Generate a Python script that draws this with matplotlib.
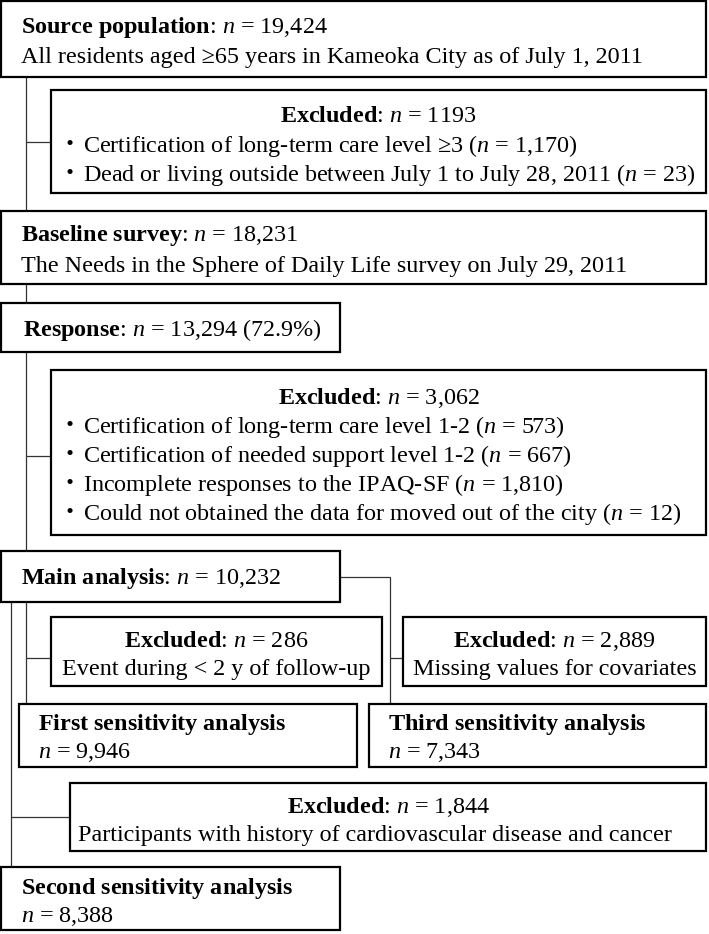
import matplotlib
matplotlib.use("Agg")
import matplotlib.pyplot as plt
from matplotlib.patches import Rectangle

plt.rcParams['font.family'] = ['Liberation Serif', 'DejaVu Serif']
plt.rcParams['mathtext.fontset'] = 'custom'
plt.rcParams['mathtext.rm'] = 'Liberation Serif'
plt.rcParams['mathtext.it'] = 'Liberation Serif:italic'
plt.rcParams['mathtext.bf'] = 'Liberation Serif:bold'

# ---- data ----
source_n = "19,424"
source_desc = "All residents aged ≥65 years in Kameoka City as of July 1, 2011"
excl1_n = "1193"
excl1_items = ["Certification of long-term care level ≥3", "Dead or living outside between July 1 to July 28, 2011"]
excl1_counts = ["1,170", "23"]
baseline_n = "18,231"
baseline_desc = "The Needs in the Sphere of Daily Life survey on July 29, 2011"
response_n = "13,294"
response_pct = "72.9%"
excl2_n = "3,062"
excl2_items = ["Certification of long-term care level 1-2", "Certification of needed support level 1-2",
               "Incomplete responses to the IPAQ-SF", "Could not obtained the data for moved out of the city"]
excl2_counts = ["573", "667", "1,810", "12"]
main_n = "10,232"
excl_first_n = "286"
excl_first_desc = "Event during < 2 y of follow-up"
excl_third_n = "2,889"
excl_third_desc = "Missing values for covariates"
first_n = "9,946"
third_n = "7,343"
excl_second_n = "1,844"
excl_second_desc = "Participants with history of cardiovascular disease and cancer"
second_n = "8,388"

FS = 17.4
W, H = 709, 934
fig = plt.figure(figsize=(W / 100, H / 100), dpi=100)
ax = fig.add_axes([0, 0, 1, 1])
ax.set_xlim(0, W)
ax.set_ylim(H, 0)
ax.axis('off')


def bold(s):
    return " ".join(r"$\mathbf{%s}$" % w for w in s.split())


def nval(v):
    return r"$n$ = " + v


def box(x0, y0, x1, y1):
    ax.add_patch(Rectangle((x0, y0), x1 - x0, y1 - y0, fill=True, facecolor='white',
                           edgecolor='black', linewidth=1.6, zorder=2))


def line(xs, ys):
    ax.plot(xs, ys, color='#333333', linewidth=0.9, zorder=1, solid_capstyle='butt')


def txt(x, y, s, ha='left'):
    ax.text(x, y, s, fontsize=FS, ha=ha, va='baseline', zorder=3)


def bullet(x, y, s):
    ax.text(70, y, "・", fontsize=FS, ha='center', va='baseline',
            family=['Noto Sans CJK JP', 'DejaVu Sans'], zorder=3)
    txt(83, y, s)


# connectors
line([26, 26], [77, 211]); line([26, 51], [142, 142])
line([26, 26], [284, 303])
line([26, 26], [352, 551]); line([26, 51], [456, 456])
line([26, 26], [602, 704]); line([26, 51], [658, 658])
line([11, 11], [602, 867]); line([11, 70], [817, 817])
line([340, 390, 390], [577, 577, 704]); line([390, 403], [658, 658])

# source
box(1, 1, 706, 77)
txt(21, 33, bold("Source population") + ": " + nval(source_n))
txt(21, 63, source_desc)

# excluded 1
box(51, 90, 706, 193)
txt(378.5, 122, bold("Excluded") + ": " + nval(excl1_n), ha='center')
for y, item, c in zip([152, 181], excl1_items, excl1_counts):
    bullet(70, y, item + " (" + nval(c) + ")")

# baseline
box(1, 211, 706, 284)
txt(21, 241, bold("Baseline survey") + ": " + nval(baseline_n))
txt(21, 272, baseline_desc)

# response
box(1, 303, 340, 352)
txt(23, 336, bold("Response") + ": " + nval(response_n) + " (" + response_pct + ")")

# excluded 2
box(51, 370, 706, 535)
txt(378.5, 404, bold("Excluded") + ": " + nval(excl2_n), ha='center')
for y, item, c in zip([433, 462, 491, 520], excl2_items, excl2_counts):
    bullet(70, y, item + " (" + nval(c) + ")")

# main
box(1, 551, 340, 602)
txt(21, 584, bold("Main analysis") + ": " + nval(main_n))

# excluded for first / third
box(51, 617, 382, 686)
txt(216.5, 647, bold("Excluded") + ": " + nval(excl_first_n), ha='center')
txt(216.5, 675, excl_first_desc, ha='center')
box(403, 617, 706, 686)
txt(554.5, 647, bold("Excluded") + ": " + nval(excl_third_n), ha='center')
txt(554.5, 675, excl_third_desc, ha='center')

# first / third
box(19, 704, 357, 767)
txt(38, 730, bold("First sensitivity analysis"))
txt(38, 758, nval(first_n))
box(369, 704, 706, 767)
txt(388, 730, bold("Third sensitivity analysis"))
txt(388, 758, nval(third_n))

# excluded for second
box(70, 783, 706, 851)
txt(388, 813, bold("Excluded") + ": " + nval(excl_second_n), ha='center')
txt(78, 841, excl_second_desc)

# second
box(1, 867, 340, 930)
txt(21, 894, bold("Second sensitivity analysis"))
txt(21, 922, nval(second_n))

fig.savefig("out.png", dpi=100)
